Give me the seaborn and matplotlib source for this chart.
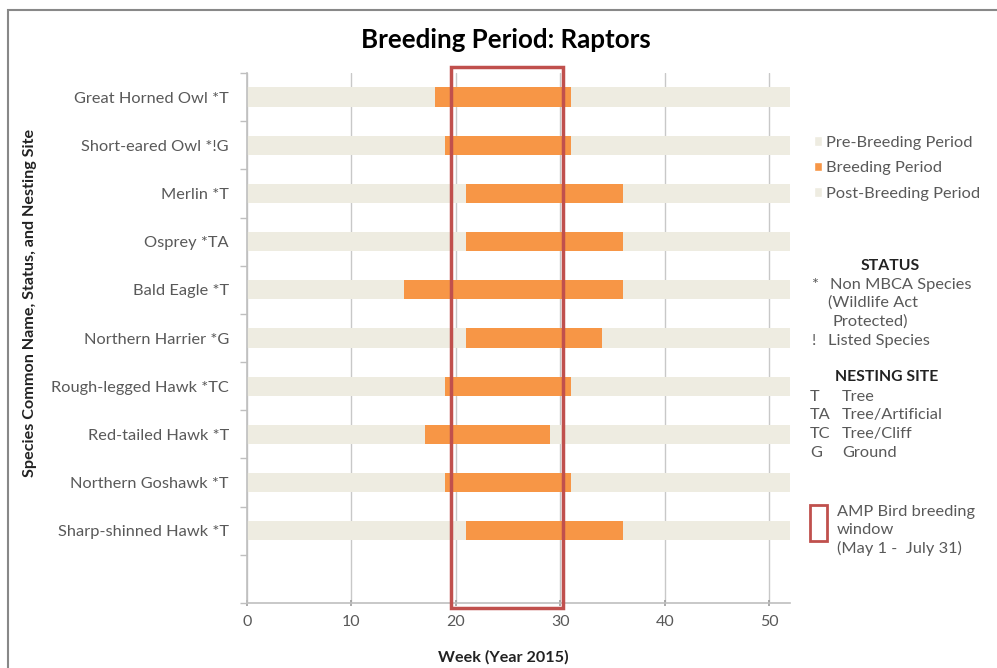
import matplotlib
matplotlib.use("Agg")
import matplotlib.pyplot as plt
import matplotlib.transforms as mtransforms
from matplotlib.patches import Rectangle, Patch
import seaborn as sns
import pandas as pd

species = ["Great Horned Owl *T", "Short-eared Owl *!G", "Merlin *T", "Osprey *TA",
           "Bald Eagle *T", "Northern Harrier *G", "Rough-legged Hawk *TC",
           "Red-tailed Hawk *T", "Northern Goshawk *T", "Sharp-shinned Hawk *T"]
breeding_start = [18, 19, 21, 21, 15, 21, 19, 17, 19, 21]
breeding_end = [31, 31, 36, 36, 36, 34, 31, 29, 31, 36]
year_weeks = 52
window_start = 19.5
window_end = 30.3
xticks = [0, 10, 20, 30, 40, 50]

GREY = "#EEECE1"
ORANGE = "#F79646"
RED = "#C0504D"
TXT = "#595959"
LINE = "#BFBFBF"
FS = 11.8

sns.set_theme(style="white")
plt.rcParams["font.family"] = ["Lato", "DejaVu Sans"]

order = species + [" "]
df = pd.DataFrame({"species": species, "start": breeding_start, "end": breeding_end})
df["full"] = year_weeks

fig = plt.figure(figsize=(9.97, 6.68), dpi=100)
ax = fig.add_axes([247 / 997, 1 - 603 / 668, (790 - 247) / 997, (603 - 73) / 668])

for col, c in [("full", GREY), ("end", ORANGE), ("start", GREY)]:
    sns.barplot(data=df, y="species", x=col, order=order, orient="h", color=c,
                width=0.4, saturation=1, edgecolor="none", linewidth=0, ax=ax, zorder=2)

ax.set_xlim(0, year_weeks)
ax.set_ylim(len(order) - 0.5, -0.5)
ax.set_xticks(xticks)
ax.set_xticklabels([str(t) for t in xticks], color=TXT, fontsize=11.5)
ax.set_yticks(range(len(species)))
ax.set_yticklabels(species, color=TXT, fontsize=FS)
ax.set_yticks([i - 0.5 for i in range(len(order) + 1)], minor=True)
ax.tick_params(axis="y", which="major", length=0, pad=13)
ax.tick_params(axis="y", which="minor", length=5, color=LINE, direction="out", left=True)
ax.tick_params(axis="x", which="major", length=5, color="#A0A0A0", direction="inout",
               bottom=True, pad=6)
ax.xaxis.grid(True, color="#C8C8C8", linewidth=1, zorder=0)
ax.set_axisbelow(True)
for s in ["top", "right"]:
    ax.spines[s].set_visible(False)
for s in ["left", "bottom"]:
    ax.spines[s].set_color(LINE)
    ax.spines[s].set_linewidth(1.2)
ax.set_xlabel("")
ax.set_ylabel("")

# AMP window rectangle
trans = mtransforms.blended_transform_factory(ax.transData, ax.transAxes)
ax.add_patch(Rectangle((window_start, -0.01), window_end - window_start, 1.022,
                       transform=trans, fill=False, edgecolor=RED, linewidth=2.5,
                       clip_on=False, zorder=5))

# Titles
fig.text(506 / 997, 1 - 40 / 668, "Breeding Period: Raptors", ha="center", va="center",
         fontsize=18.6, fontweight="bold", color="black")
fig.text(503 / 997, 1 - 657 / 668, "Week (Year 2015)", ha="center", va="center",
         fontsize=11.6, fontweight="bold", color="#222222")
fig.text(30 / 997, 1 - 303 / 668, "Species Common Name, Status, and Nesting Site",
         ha="center", va="center", rotation=90, fontsize=11.6, fontweight="bold",
         color="#222222")

# Legend
handles = [Patch(facecolor=GREY, label="Pre-Breeding Period"),
           Patch(facecolor=ORANGE, label="Breeding Period"),
           Patch(facecolor=GREY, label="Post-Breeding Period")]
leg = fig.legend(handles=handles, loc="upper left",
                 bbox_to_anchor=(799 / 997, 1 - 121 / 668), frameon=False,
                 handlelength=0.5, handleheight=0.5, handletextpad=0.25,
                 labelspacing=0.7, fontsize=FS)
for t in leg.get_texts():
    t.set_color(TXT)

def ftxt(x, y, s, **kw):
    kw.setdefault("color", TXT)
    kw.setdefault("fontsize", FS)
    fig.text(x / 997, 1 - y / 668, s, va="center", **kw)

ftxt(890, 266, "STATUS", ha="center", fontweight="bold", color="#222222", fontsize=11.3)
ftxt(812, 285, "*", ha="left")
ftxt(830, 285, "Non MBCA Species", ha="left")
ftxt(828, 303, "(Wildlife Act", ha="left")
ftxt(832, 322, "Protected)", ha="left")
ftxt(812, 341, "!", ha="left")
ftxt(828, 341, "Listed Species", ha="left")

ftxt(887, 377, "NESTING SITE", ha="center", fontweight="bold", color="#222222", fontsize=11.3)
for y, code, name in [(397, "T", "Tree"), (415, "TA", "Tree/Artificial"),
                      (434, "TC", "Tree/Cliff"), (453, "G", "Ground")]:
    ftxt(810, y, code, ha="left")
    ftxt(842, y, name, ha="left")

fig.patches.append(Rectangle((810 / 997, 1 - 541 / 668), 17 / 997, 36 / 668,
                             transform=fig.transFigure, fill=False, edgecolor=RED,
                             linewidth=2))
ftxt(837, 512, "AMP Bird breeding", ha="left")
ftxt(837, 530, "window", ha="left")
ftxt(837, 548, "(May 1 -  July 31)", ha="left")

# outer frame
fig.patches.append(Rectangle((8 / 997, -0.05), 1.05, 1 - 10 / 668 + 0.05,
                             transform=fig.transFigure, fill=False,
                             edgecolor="#888888", linewidth=1.5))

fig.savefig("out.png", dpi=100)
